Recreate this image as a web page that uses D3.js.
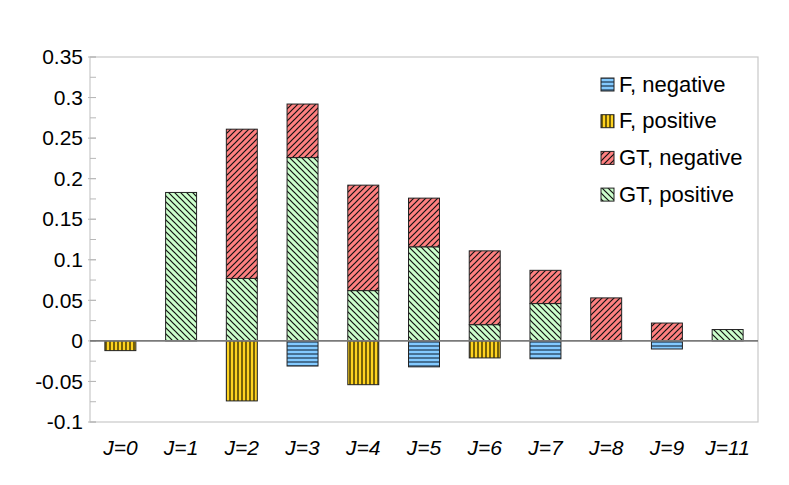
<!DOCTYPE html>
<html><head><meta charset="utf-8">
<script src="https://cdn.jsdelivr.net/npm/d3@7"></script>
<style>body{margin:0;background:#fff}svg{display:block}text{font-family:"Liberation Sans",Arial,sans-serif;fill:#000}</style>
</head><body><svg id="c" width="789" height="485"></svg>
<script>
const categories = ["J=0","J=1","J=2","J=3","J=4","J=5","J=6","J=7","J=8","J=9","J=11"];
const fNegative  = [0, 0, 0, -0.031, 0, -0.032, 0, -0.022, 0, -0.010, 0];
const fPositive  = [-0.012, 0, -0.074, 0, -0.054, 0, -0.021, 0, 0, 0, 0];
const gtNegative = [0, 0, 0.184, 0.066, 0.130, 0.060, 0.091, 0.041, 0.053, 0.022, 0];
const gtPositive = [0, 0.183, 0.077, 0.226, 0.062, 0.116, 0.020, 0.046, 0, 0, 0.014];
const yTicks = [-0.1,-0.05,0,0.05,0.1,0.15,0.2,0.25,0.3,0.35];
const yTickLabels = ["-0.1","-0.05","0","0.05","0.1","0.15","0.2","0.25","0.3","0.35"];
const seriesNames = ["F, negative","F, positive","GT, negative","GT, positive"];

const svg = d3.select("#c");
const L=90,R=758,T=57,B=422;
const x = d3.scaleBand().domain(categories).range([L,R]).paddingInner(0.49).paddingOuter(0.245);
const y = d3.scaleLinear().domain([-0.1,0.35]).range([B,T]);

const defs = svg.append("defs");
function pat(id, bg, w, h, lines, stroke, sw){
  const p = defs.append("pattern").attr("id",id).attr("patternUnits","userSpaceOnUse").attr("width",w).attr("height",h);
  p.append("rect").attr("width",w).attr("height",h).attr("fill",bg);
  lines.forEach(l=>p.append("line").attr("x1",l[0]).attr("y1",l[1]).attr("x2",l[2]).attr("y2",l[3]).attr("stroke",stroke).attr("stroke-width",sw));
}
pat("pFN","#83caff",4,4,[[0,2,4,2]],"#2b4a66",1.4);
pat("pFP","#ffd320",4,4,[[2,0,2,4]],"#3a3000",1.4);
pat("pGN","#ff8080",6,6,[[0,6,6,0],[-1,1,1,-1],[5,7,7,5]],"#111",1.2);
pat("pGP","#ccffcc",6,6,[[0,0,6,6],[-1,5,1,7],[5,-1,7,1]],"#111",1.2);

const keyMap = {gtPos:gtPositive, gtNeg:gtNegative, fNeg:fNegative, fPos:fPositive};
const fills = {fNeg:"url(#pFN)", fPos:"url(#pFP)", gtNeg:"url(#pGN)", gtPos:"url(#pGP)"};
const rows = categories.map((c,i)=>{const o={cat:c}; for(const k in keyMap) o[k]=keyMap[k][i]; return o;});
const stack = d3.stack().keys(["gtPos","gtNeg","fNeg","fPos"]).offset(d3.stackOffsetDiverging);
const stacked = stack(rows);

// plot frame
svg.append("rect").attr("x",L).attr("y",T).attr("width",R-L).attr("height",B-T).attr("fill","none").attr("stroke","#c8c8c8").attr("stroke-width",1.2);

// y axis
const yAxis = d3.axisLeft(y).tickValues(yTicks).tickFormat((d,i)=>yTickLabels[i]).tickSize(0).tickPadding(8);
const ga = svg.append("g").attr("transform",`translate(${L},0)`).call(yAxis);
ga.select(".domain").remove();
ga.selectAll("text").style("font-size","21px").attr("x",-7);
// ticks
const minor = d3.range(-0.1,0.351,0.025);
svg.append("g").selectAll("line").data(minor).join("line")
  .attr("x1",d=>L).attr("x2",L+6).attr("y1",d=>y(d)).attr("y2",d=>y(d))
  .attr("stroke","#b8b8b8").attr("stroke-width",1);
svg.append("g").selectAll("line").data(yTicks).join("line")
  .attr("x1",L-2).attr("x2",L+6).attr("y1",d=>y(d)).attr("y2",d=>y(d))
  .attr("stroke","#b8b8b8").attr("stroke-width",1);

// bars
svg.append("g").selectAll("g").data(stacked).join("g").attr("fill",d=>fills[d.key])
  .selectAll("rect").data(d=>d.filter(s=>s[1]!==s[0])).join("rect")
  .attr("x",d=>x(d.data.cat)).attr("width",x.bandwidth())
  .attr("y",d=>y(Math.max(d[0],d[1]))).attr("height",d=>Math.abs(y(d[0])-y(d[1])))
  .attr("stroke","#222").attr("stroke-width",1);

// zero line
svg.append("line").attr("x1",L).attr("x2",R).attr("y1",y(0)).attr("y2",y(0)).attr("stroke","#7a7a7a").attr("stroke-width",1.6);

// x labels
const xAxis = d3.axisBottom(x).tickSize(0).tickPadding(18);
const gx = svg.append("g").attr("transform",`translate(0,${B})`).call(xAxis);
gx.select(".domain").remove();
gx.selectAll("text").style("font-size","21px").style("font-style","italic");

// legend
const legFills = ["url(#pFN)","url(#pFP)","url(#pGN)","url(#pGP)"];
const lg = svg.append("g");
seriesNames.forEach((n,i)=>{
  const cy = 84 + i*36.7;
  lg.append("rect").attr("x",601).attr("y",cy-6).attr("width",13).attr("height",13).attr("fill",legFills[i]).attr("stroke","#222").attr("stroke-width",1);
  lg.append("text").attr("x",619).attr("y",cy+7.5).style("font-size","22px").text(n);
});
</script></body></html>
